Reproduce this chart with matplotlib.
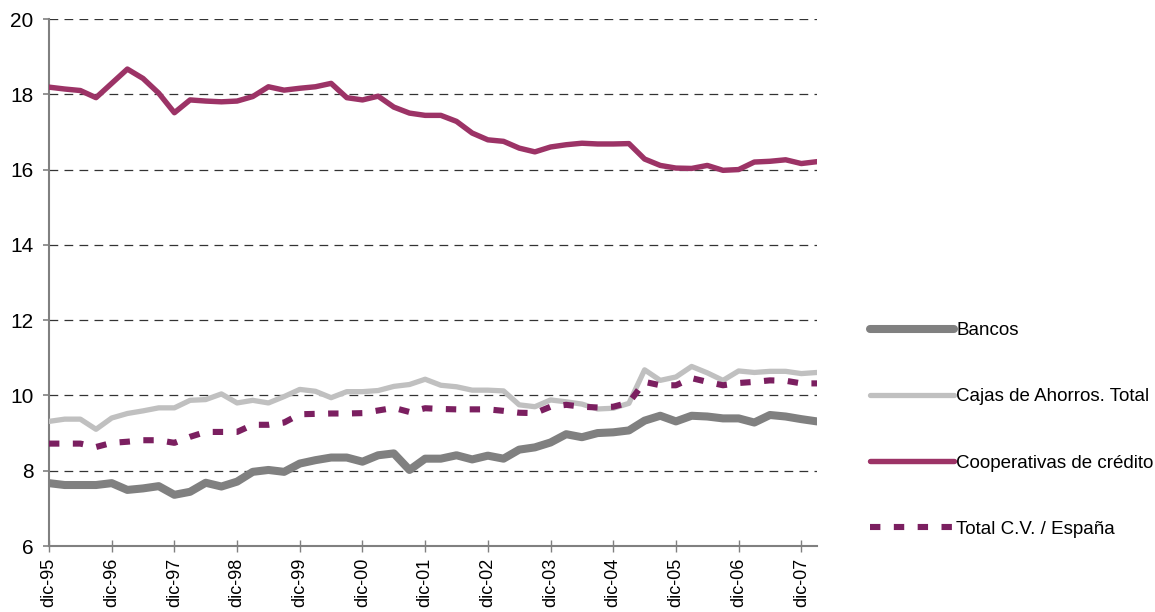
import matplotlib
matplotlib.use("Agg")
import matplotlib.pyplot as plt
import numpy as np

plt.rcParams['font.family'] = ['Liberation Sans', 'DejaVu Sans']

years = ["95", "96", "97", "98", "99", "00", "01", "02", "03", "04", "05", "06", "07"]
tick_labels = ["dic-" + y for y in years]

bancos = [7.67, 7.62, 7.62, 7.62, 7.67, 7.49, 7.53, 7.59, 7.36, 7.44,
          7.68, 7.58, 7.71, 7.97, 8.02, 7.97, 8.19, 8.28, 8.35, 8.35,
          8.24, 8.41, 8.46, 8.02, 8.32, 8.32, 8.41, 8.30, 8.40, 8.32,
          8.56, 8.62, 8.75, 8.97, 8.89, 9.00, 9.02, 9.07, 9.33, 9.46,
          9.31, 9.46, 9.44, 9.39, 9.39, 9.28, 9.48, 9.44, 9.37, 9.31]

cajas = [9.31, 9.37, 9.37, 9.10, 9.40, 9.52, 9.59, 9.67, 9.67, 9.87,
         9.89, 10.04, 9.80, 9.87, 9.80, 9.97, 10.16, 10.11, 9.94, 10.10,
         10.10, 10.13, 10.24, 10.29, 10.43, 10.27, 10.23, 10.14, 10.14, 10.12,
         9.75, 9.70, 9.88, 9.83, 9.77, 9.64, 9.66, 9.79, 10.68, 10.40,
         10.49, 10.77, 10.60, 10.40, 10.65, 10.61, 10.64, 10.64, 10.58, 10.61]

cooperativas = [18.19, 18.14, 18.10, 17.91, 18.29, 18.67, 18.42, 18.03, 17.51, 17.85,
                17.82, 17.80, 17.82, 17.94, 18.20, 18.11, 18.16, 18.20, 18.29, 17.91,
                17.85, 17.95, 17.66, 17.50, 17.44, 17.44, 17.28, 16.97, 16.79, 16.75,
                16.57, 16.47, 16.60, 16.66, 16.70, 16.68, 16.68, 16.69, 16.28, 16.11,
                16.04, 16.03, 16.11, 15.98, 16.00, 16.20, 16.22, 16.26, 16.16, 16.21]

total_cv = [8.72, 8.72, 8.72, 8.63, 8.74, 8.77, 8.81, 8.81, 8.74, 8.90,
            9.03, 9.03, 9.03, 9.22, 9.22, 9.28, 9.50, 9.51, 9.52, 9.52,
            9.53, 9.60, 9.67, 9.56, 9.66, 9.64, 9.63, 9.63, 9.63, 9.59,
            9.54, 9.53, 9.70, 9.75, 9.70, 9.68, 9.70, 9.81, 10.36, 10.27,
            10.27, 10.46, 10.36, 10.27, 10.33, 10.36, 10.40, 10.39, 10.32, 10.32]

series_labels = ["Bancos", "Cajas de Ahorros. Total", "Cooperativas de crédito", "Total C.V. / España"]

fig = plt.figure(figsize=(11.55, 6.12), dpi=100)
ax = fig.add_axes([49/1155, 1 - 546/612, (817 - 49)/1155, (546 - 19)/612])

x = np.arange(len(bancos))
l1, = ax.plot(x, bancos, color='#808080', lw=5.8, solid_capstyle='round', zorder=3)
l2, = ax.plot(x, cajas, color='#c0c0c0', lw=3.8, solid_capstyle='round', zorder=3)
l3, = ax.plot(x, cooperativas, color='#9c3366', lw=3.9, solid_capstyle='round', zorder=4)
l4, = ax.plot(x, total_cv, color='#7b1f60', lw=4.4, dashes=(1.7, 2.2), dash_capstyle='butt', zorder=3)

ax.set_xlim(0, len(bancos) - 1)
ax.set_ylim(6, 20)
ax.set_yticks(np.arange(6, 21, 2))
ax.set_xticks(np.arange(0, len(bancos), 4))
ax.set_xticklabels(tick_labels, rotation=90, fontsize=13)
ax.tick_params(axis='y', labelsize=15, direction='out', length=4.5, width=1.2, color='#808080', pad=6.5)
ax.tick_params(axis='x', direction='inout', length=9, width=1.0, color='#808080', pad=4)

for v in np.arange(8, 21, 2):
    ax.axhline(v, color='#333333', lw=0.9, dashes=(7, 5), zorder=1)

for s in ['top', 'right']:
    ax.spines[s].set_visible(False)
for s in ['left', 'bottom']:
    ax.spines[s].set_color('#808080')
    ax.spines[s].set_linewidth(1.5)

leg = ax.legend([l1, l2, l3, l4], series_labels, loc='center left',
                bbox_to_anchor=(870/1155, 1 - 430/612), bbox_transform=fig.transFigure,
                frameon=False, fontsize=13.5, handlelength=4.5, handletextpad=0.1,
                labelspacing=2.62, borderpad=0, borderaxespad=0)

fig.savefig("out.png", dpi=100)
